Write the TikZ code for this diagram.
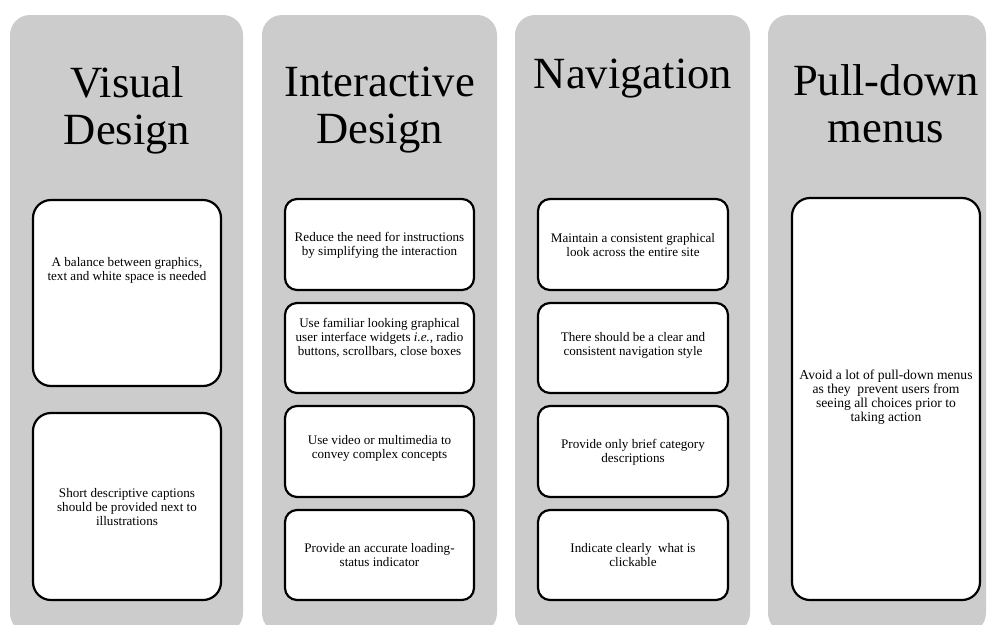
\documentclass[tikz,border=0pt]{standalone}
\usepackage{fontspec}
\setmainfont{Liberation Serif}
\definecolor{panelgray}{RGB}{204,204,204}
\begin{document}
\begin{tikzpicture}[x=1pt,y=-1pt,
  panel/.style={fill=panelgray, draw=none, rounded corners=20pt},
  itembox/.style={fill=white, draw=black, line width=2.2pt, rounded corners=#1},
  title/.style={font=\fontsize{44.6}{47}\selectfont, align=center, inner sep=0pt},
  itemtext/.style={font=\fontsize{13.1}{14.2}\selectfont, align=center, inner sep=0pt},
  bigtext/.style={font=\fontsize{13.6}{13.8}\selectfont, align=center, inner sep=0pt}]
\useasboundingbox (0,0) rectangle (988,624);
\clip (0,0) rectangle (988,624);

% panels
\path[panel] (10,15) rectangle (243,633);
\path[panel] (262,15) rectangle (497,633);
\path[panel] (515,15) rectangle (750,633);
\path[panel] (768,15) rectangle (986,633);

% titles
\node[title] (t1) at (127,110.1) {Visual\\Design};
\node[title] (t2) at (379.5,110.1) {Interactive\\Design};
\node[title, anchor=base] (t3) at (633,88) {Navigation};
\node[title] (t4) at (886,103.5) {Pull-down\\menus};

% column 1
\path[itembox=18pt] (33,200) rectangle (221,386);
\path[itembox=18pt] (33,413) rectangle (221,600);
\node[itemtext] (a1) at (127,270) {A balance between graphics,\\text and white space is needed};
\node[itemtext] (a2) at (127,507) {Short descriptive captions\\should be provided next to\\illustrations};

% column 2
\path[itembox=12pt] (285,199) rectangle (474,290);
\path[itembox=12pt] (285,303) rectangle (474,393);
\path[itembox=12pt] (285,406) rectangle (474,497);
\path[itembox=12pt] (285,510) rectangle (474,600);
\node[itemtext] (b1) at (379.5,245) {Reduce the need for instructions\\by simplifying the interaction};
\node[itemtext] (b2) at (379.5,338) {Use familiar looking graphical\\user interface widgets \textit{i.e.}, radio\\buttons, scrollbars, close boxes};
\node[itemtext] (b3) at (379.5,448) {Use video or multimedia to\\convey complex concepts};
\node[itemtext] (b4) at (379.5,555) {Provide an accurate loading-\\status indicator};

% column 3
\path[itembox=12pt] (538,199) rectangle (728,290);
\path[itembox=12pt] (538,303) rectangle (728,393);
\path[itembox=12pt] (538,406) rectangle (728,497);
\path[itembox=12pt] (538,510) rectangle (728,600);
\node[itemtext] (c1) at (633,245) {Maintain a consistent graphical\\look across the entire site};
\node[itemtext] (c2) at (633,345) {There should be a clear and\\consistent navigation style};
\node[itemtext] (c3) at (633,452) {Provide only brief category\\descriptions};
\node[itemtext] (c4) at (633,555) {Indicate clearly\ \ what is\\clickable};

% column 4
\path[itembox=18pt] (792,198) rectangle (980,600);
\node[bigtext] (d1) at (886,397) {Avoid a lot of pull-down menus\\as they\ \ prevent users from\\seeing all choices prior to\\taking action};
\end{tikzpicture}
\end{document}
